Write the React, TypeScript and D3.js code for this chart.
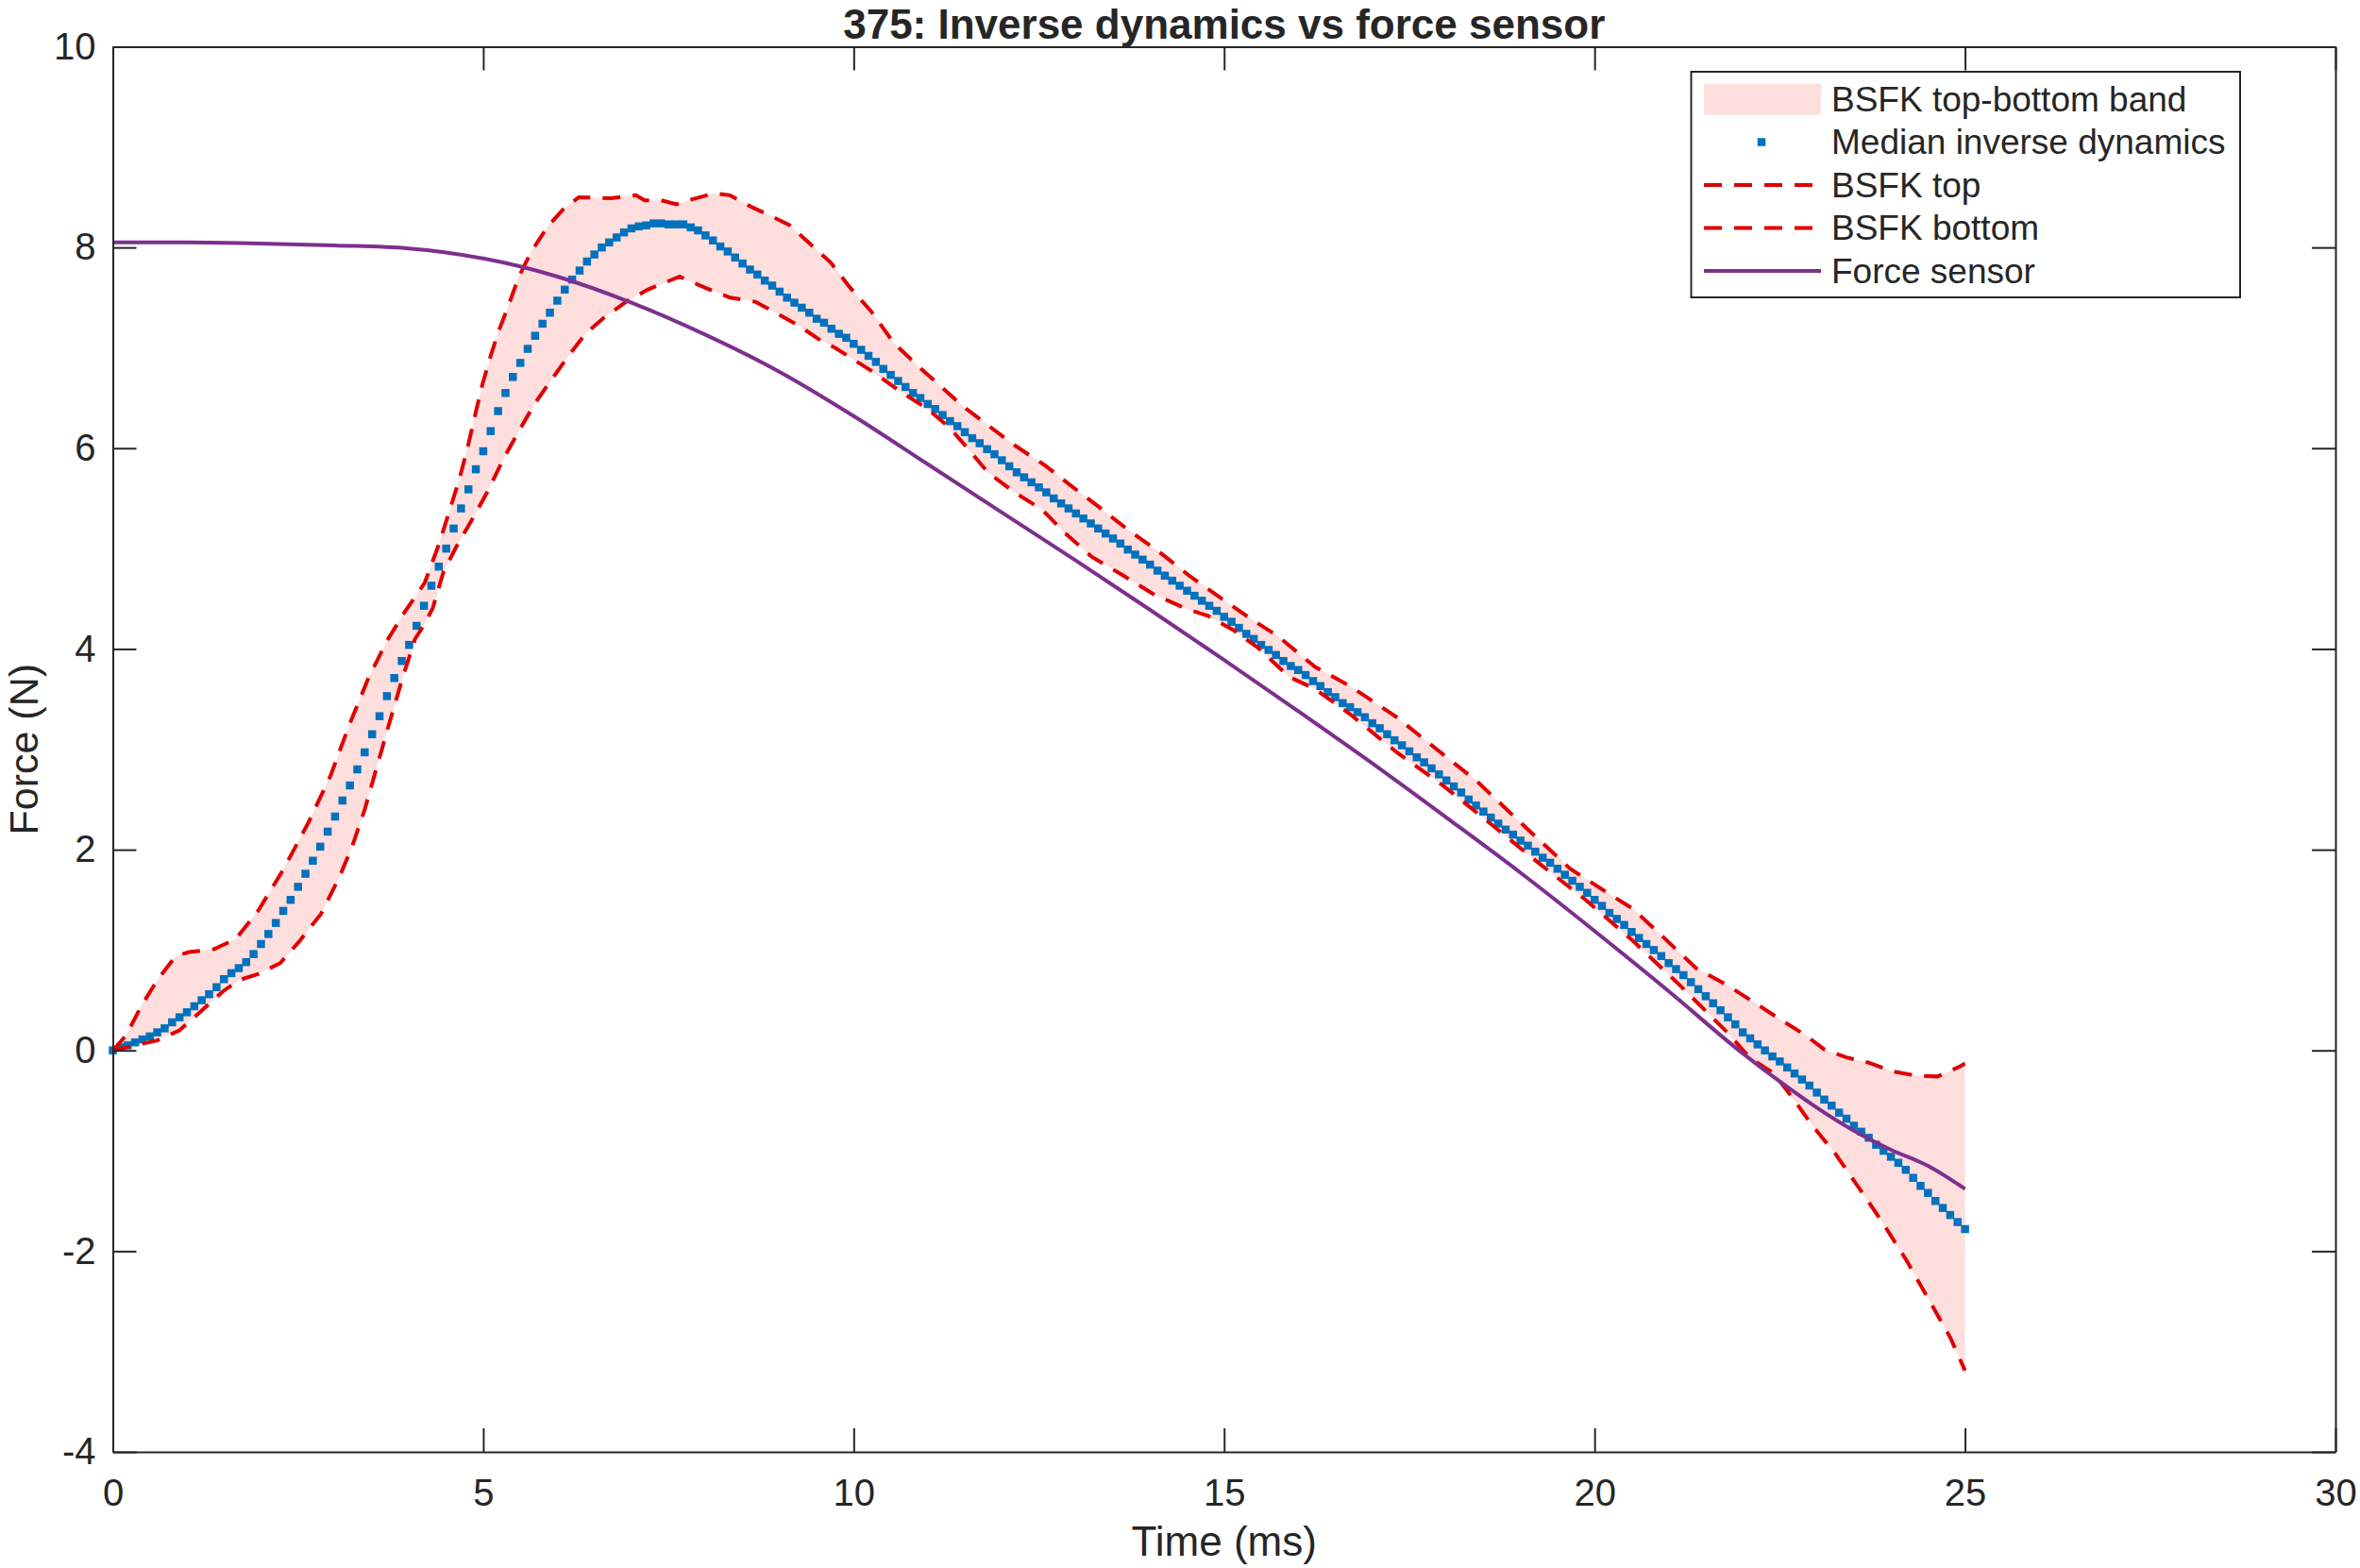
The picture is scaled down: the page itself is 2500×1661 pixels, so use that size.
import { useEffect, useRef } from 'react';
import * as d3 from 'd3';

// Median inverse dynamics, one sample every 0.1 ms from 0 to 25 ms
const medianStepMs = 0.1;
const medianValues = [
  0.00, 0.03, 0.05, 0.08, 0.11, 0.14, 0.18, 0.22, 0.28, 0.33,
  0.38, 0.44, 0.50, 0.56, 0.63, 0.71, 0.77, 0.82, 0.88, 0.96,
  1.06, 1.16, 1.27, 1.39, 1.50, 1.63, 1.76, 1.89, 2.03, 2.18,
  2.33, 2.49, 2.64, 2.80, 2.97, 3.15, 3.33, 3.53, 3.71, 3.88,
  4.04, 4.23, 4.43, 4.63, 4.82, 5.00, 5.20, 5.40, 5.59, 5.79,
  5.97, 6.17, 6.37, 6.55, 6.71, 6.85, 6.99, 7.12, 7.24, 7.35,
  7.47, 7.58, 7.68, 7.77, 7.86, 7.93, 8.00, 8.05, 8.10, 8.15,
  8.19, 8.21, 8.22, 8.24, 8.24, 8.23, 8.23, 8.23, 8.20, 8.17,
  8.12, 8.07, 8.01, 7.96, 7.90, 7.84, 7.78, 7.73, 7.67, 7.62,
  7.56, 7.50, 7.45, 7.40, 7.35, 7.29, 7.25, 7.19, 7.14, 7.10,
  7.04, 6.98, 6.92, 6.86, 6.79, 6.73, 6.67, 6.61, 6.55, 6.50,
  6.44, 6.39, 6.33, 6.27, 6.22, 6.16, 6.10, 6.05, 5.99, 5.94,
  5.88, 5.82, 5.76, 5.71, 5.66, 5.61, 5.56, 5.50, 5.45, 5.40,
  5.35, 5.30, 5.25, 5.20, 5.15, 5.10, 5.05, 4.99, 4.94, 4.89,
  4.84, 4.78, 4.73, 4.68, 4.63, 4.58, 4.53, 4.48, 4.43, 4.38,
  4.32, 4.27, 4.21, 4.15, 4.10, 4.04, 3.99, 3.94, 3.88, 3.83,
  3.79, 3.74, 3.68, 3.63, 3.57, 3.52, 3.46, 3.42, 3.37, 3.32,
  3.26, 3.21, 3.15, 3.09, 3.04, 2.98, 2.92, 2.87, 2.81, 2.75,
  2.69, 2.63, 2.57, 2.50, 2.44, 2.38, 2.32, 2.26, 2.20, 2.15,
  2.09, 2.04, 1.98, 1.92, 1.87, 1.81, 1.75, 1.69, 1.63, 1.57,
  1.50, 1.44, 1.37, 1.31, 1.25, 1.18, 1.12, 1.06, 1.00, 0.94,
  0.87, 0.81, 0.75, 0.68, 0.61, 0.54, 0.47, 0.40, 0.33, 0.26,
  0.18, 0.12, 0.06, 0.00, -0.06, -0.11, -0.17, -0.23, -0.29, -0.35,
  -0.42, -0.49, -0.55, -0.62, -0.68, -0.75, -0.81, -0.87, -0.94, -1.00,
  -1.06, -1.12, -1.19, -1.27, -1.35, -1.42, -1.50, -1.57, -1.64, -1.71,
  -1.78,
];

// BSFK top
const topTimes = [0, 0.18, 0.39, 0.6, 0.85, 1.03, 1.37, 1.66, 1.96, 2.3, 2.64, 2.94, 3.19, 3.45, 3.7, 3.95, 4.21, 4.4, 4.55, 4.68, 4.78, 4.89, 4.99, 5.1, 5.21, 5.34, 5.48, 5.65, 5.87, 6.08, 6.29, 6.72, 7.06, 7.18, 7.4, 7.61, 7.82, 8.12, 8.33, 8.63, 8.84, 9.14, 9.39, 9.69, 9.94, 10.24, 10.54, 10.88, 11.17, 11.47, 11.81, 12.15, 12.58, 12.91, 13.3, 13.68, 14.1, 14.53, 14.95, 15.38, 15.72, 16.23, 16.7, 17.33, 17.97, 18.4, 19.03, 19.67, 20.09, 20.52, 20.94, 21.37, 21.79, 22.13, 22.42, 22.85, 23.1, 23.4, 23.69, 24.03, 24.33, 24.63, 24.93, 25];
const topValues = [0, 0.15, 0.45, 0.7, 0.94, 0.98, 1.01, 1.11, 1.39, 1.8, 2.27, 2.74, 3.24, 3.71, 4.08, 4.38, 4.66, 5.04, 5.39, 5.7, 5.98, 6.33, 6.64, 6.92, 7.17, 7.42, 7.71, 7.96, 8.21, 8.38, 8.5, 8.49, 8.52, 8.47, 8.47, 8.43, 8.48, 8.54, 8.52, 8.4, 8.33, 8.22, 8.05, 7.85, 7.61, 7.36, 7.05, 6.81, 6.62, 6.42, 6.23, 6.04, 5.83, 5.64, 5.42, 5.2, 4.98, 4.73, 4.51, 4.29, 4.13, 3.82, 3.63, 3.32, 2.94, 2.69, 2.25, 1.81, 1.61, 1.41, 1.12, 0.82, 0.65, 0.49, 0.35, 0.15, 0.01, -0.07, -0.12, -0.21, -0.25, -0.26, -0.16, -0.13];

// BSFK bottom
const bottomTimes = [0, 0.3, 0.6, 0.9, 1.19, 1.49, 1.7, 1.96, 2.26, 2.51, 2.81, 3.06, 3.23, 3.4, 3.57, 3.74, 3.91, 4.08, 4.21, 4.32, 4.46, 4.63, 4.85, 5.06, 5.27, 5.48, 5.7, 5.91, 6.12, 6.38, 6.63, 6.93, 7.22, 7.65, 7.99, 8.33, 8.67, 8.92, 9.26, 9.52, 9.75, 10.24, 10.66, 11, 11.3, 11.56, 11.81, 12.15, 12.54, 12.83, 13.21, 13.64, 14.06, 14.49, 14.78, 15.12, 15.46, 15.88, 16.23, 16.7, 17.33, 17.97, 18.61, 19.24, 19.88, 20.52, 21.15, 21.79, 22.09, 22.42, 22.67, 22.92, 23.26, 23.56, 23.9, 24.2, 24.54, 24.8, 25];
const bottomValues = [0, 0.05, 0.1, 0.2, 0.39, 0.59, 0.7, 0.76, 0.87, 1.08, 1.36, 1.73, 2.03, 2.4, 2.84, 3.28, 3.71, 4.1, 4.25, 4.41, 4.76, 5.01, 5.29, 5.57, 5.89, 6.17, 6.45, 6.67, 6.89, 7.14, 7.3, 7.46, 7.58, 7.71, 7.6, 7.5, 7.46, 7.36, 7.22, 7.09, 7.0, 6.77, 6.55, 6.39, 6.2, 5.98, 5.76, 5.57, 5.39, 5.17, 4.92, 4.73, 4.54, 4.4, 4.33, 4.19, 4.01, 3.72, 3.6, 3.35, 2.97, 2.63, 2.25, 1.87, 1.5, 1.09, 0.65, 0.18, -0.07, -0.23, -0.47, -0.73, -1.04, -1.36, -1.73, -2.08, -2.52, -2.86, -3.19];

// Force sensor
const forceTimes = [0, 1, 2, 3, 4, 5, 6, 7, 8, 9, 10, 11, 12, 13, 14, 15, 16, 17, 18, 19, 20, 21, 22, 22.5, 23, 23.5, 24, 24.5, 25];
const forceValues = [8.05, 8.05, 8.04, 8.02, 7.99, 7.89, 7.71, 7.45, 7.13, 6.76, 6.32, 5.84, 5.36, 4.88, 4.39, 3.89, 3.38, 2.86, 2.32, 1.77, 1.19, 0.59, -0.03, -0.31, -0.57, -0.80, -0.99, -1.15, -1.38];

const xTicks = [0, 5, 10, 15, 20, 25, 30];
const yTicks = [-4, -2, 0, 2, 4, 6, 8, 10];
const legendLabels = ['BSFK top-bottom band', 'Median inverse dynamics', 'BSFK top', 'BSFK bottom', 'Force sensor'];

const WIDTH = 2500;
const HEIGHT = 1661;
const FONT = '"Liberation Sans", Arial, Helvetica, sans-serif';
const AXIS_COLOR = '#262626';
const BLUE = '#0072BD';
const RED = '#e00000';
const PURPLE = '#7E2F8E';
const BAND = 'rgb(255,222,222)';

export default function App() {
    const ref = useRef<SVGSVGElement | null>(null);

    useEffect(() => {
        const margin = { top: 49.5, right: 26, bottom: 123, left: 119.5 };
        const svg = d3.select(ref.current);
        svg.selectAll('*').remove();

        const x = d3.scaleLinear().domain([0, 30]).range([margin.left, WIDTH - margin.right]);
        const y = d3.scaleLinear().domain([-4, 10]).range([HEIGHT - margin.bottom, margin.top]);

        const zip = (ts: number[], vs: number[]) => ts.map((t, i) => [t, vs[i]] as [number, number]);
        const top = zip(topTimes, topValues);
        const bottom = zip(bottomTimes, bottomValues);
        const force = zip(forceTimes, forceValues);
        const median = medianValues.map((v, i) => [i * medianStepMs, v] as [number, number]);

        const line = d3.line<[number, number]>()
            .x(d => x(d[0]))
            .y(d => y(d[1]));
        const smooth = d3.line<[number, number]>()
            .x(d => x(d[0]))
            .y(d => y(d[1]))
            .curve(d3.curveMonotoneX);

        // Band between top and bottom
        svg.append('path')
            .attr('fill', BAND)
            .attr('stroke', 'none')
            .attr('d', line([...top, ...bottom.slice().reverse()]) + 'Z');

        // Median markers
        const size = 8.5;
        svg.append('g')
            .selectAll('rect')
            .data(median)
            .join('rect')
            .attr('x', d => x(d[0]) - size / 2)
            .attr('y', d => y(d[1]) - size / 2)
            .attr('width', size)
            .attr('height', size)
            .attr('fill', BLUE);

        // Dashed top and bottom
        for (const series of [top, bottom]) {
            svg.append('path')
                .attr('fill', 'none')
                .attr('stroke', RED)
                .attr('stroke-width', 4)
                .attr('stroke-dasharray', '19 13')
                .attr('d', line(series));
        }

        // Force sensor
        svg.append('path')
            .attr('fill', 'none')
            .attr('stroke', PURPLE)
            .attr('stroke-width', 4)
            .attr('d', smooth(force));

        // Axes (ticks inward, box on)
        const styleAxis = (g: d3.Selection<SVGGElement, unknown, null, undefined>) => {
            g.selectAll('.domain').attr('stroke', AXIS_COLOR).attr('stroke-width', 2);
            g.selectAll('.tick line').attr('stroke', AXIS_COLOR).attr('stroke-width', 2);
            g.selectAll('.tick text').attr('fill', AXIS_COLOR).attr('font-size', 40).attr('font-family', FONT);
        };
        const plain = (d: d3.NumberValue) => String(d);

        svg.append('g')
            .attr('transform', `translate(0,${HEIGHT - margin.bottom})`)
            .call(d3.axisBottom(x).tickValues(xTicks).tickFormat(plain).tickSizeInner(-25).tickSizeOuter(0).tickPadding(29))
            .call(styleAxis);
        svg.append('g')
            .attr('transform', `translate(0,${margin.top})`)
            .call(d3.axisTop(x).tickValues(xTicks).tickFormat(() => '').tickSizeInner(-25).tickSizeOuter(0))
            .call(styleAxis);
        svg.append('g')
            .attr('transform', `translate(${margin.left},0)`)
            .call(d3.axisLeft(y).tickValues(yTicks).tickFormat(plain).tickSizeInner(-25).tickSizeOuter(0).tickPadding(18))
            .call(styleAxis);
        svg.append('g')
            .attr('transform', `translate(${WIDTH - margin.right},0)`)
            .call(d3.axisRight(y).tickValues(yTicks).tickFormat(() => '').tickSizeInner(-25).tickSizeOuter(0))
            .call(styleAxis);

        // Title and axis labels
        const midX = (x(0) + x(30)) / 2;
        const midY = (y(-4) + y(10)) / 2;
        svg.append('text')
            .attr('x', midX).attr('y', 41)
            .attr('text-anchor', 'middle')
            .attr('font-family', FONT).attr('font-size', 44).attr('font-weight', 'bold')
            .attr('fill', AXIS_COLOR)
            .text('375: Inverse dynamics vs force sensor');
        svg.append('text')
            .attr('x', midX).attr('y', 1648)
            .attr('text-anchor', 'middle')
            .attr('font-family', FONT).attr('font-size', 44)
            .attr('fill', AXIS_COLOR)
            .text('Time (ms)');
        svg.append('text')
            .attr('transform', `translate(40,${midY}) rotate(-90)`)
            .attr('text-anchor', 'middle')
            .attr('font-family', FONT).attr('font-size', 43)
            .attr('fill', AXIS_COLOR)
            .text('Force (N)');

        // Legend
        const lg = svg.append('g');
        lg.append('rect')
            .attr('x', 1791.5).attr('y', 76).attr('width', 581.5).attr('height', 239)
            .attr('fill', 'white').attr('stroke', AXIS_COLOR).attr('stroke-width', 2);
        const rowY = (i: number) => 105 + i * 45.5;
        lg.append('rect')
            .attr('x', 1805).attr('y', rowY(0) - 16.5).attr('width', 124).attr('height', 33)
            .attr('fill', BAND);
        lg.append('rect')
            .attr('x', 1866 - size / 2).attr('y', rowY(1) - size / 2).attr('width', size).attr('height', size)
            .attr('fill', BLUE);
        [2, 3].forEach(i => {
            lg.append('line')
                .attr('x1', 1805).attr('x2', 1924).attr('y1', rowY(i)).attr('y2', rowY(i))
                .attr('stroke', RED).attr('stroke-width', 4).attr('stroke-dasharray', '19 13');
        });
        lg.append('line')
            .attr('x1', 1805).attr('x2', 1929).attr('y1', rowY(4)).attr('y2', rowY(4))
            .attr('stroke', PURPLE).attr('stroke-width', 4);
        lg.selectAll('text.lbl')
            .data(legendLabels)
            .join('text')
            .attr('class', 'lbl')
            .attr('x', 1940)
            .attr('y', (_, i) => rowY(i))
            .attr('dy', '0.35em')
            .attr('font-family', FONT).attr('font-size', 37)
            .attr('fill', AXIS_COLOR)
            .text(d => d);
    }, []);

    return (
        <svg
            ref={ref}
            width={WIDTH}
            height={HEIGHT}
            viewBox={`0 0 ${WIDTH} ${HEIGHT}`}
            style={{ position: 'absolute', left: 0, top: 0, background: 'white' }}
        />
    );
}
